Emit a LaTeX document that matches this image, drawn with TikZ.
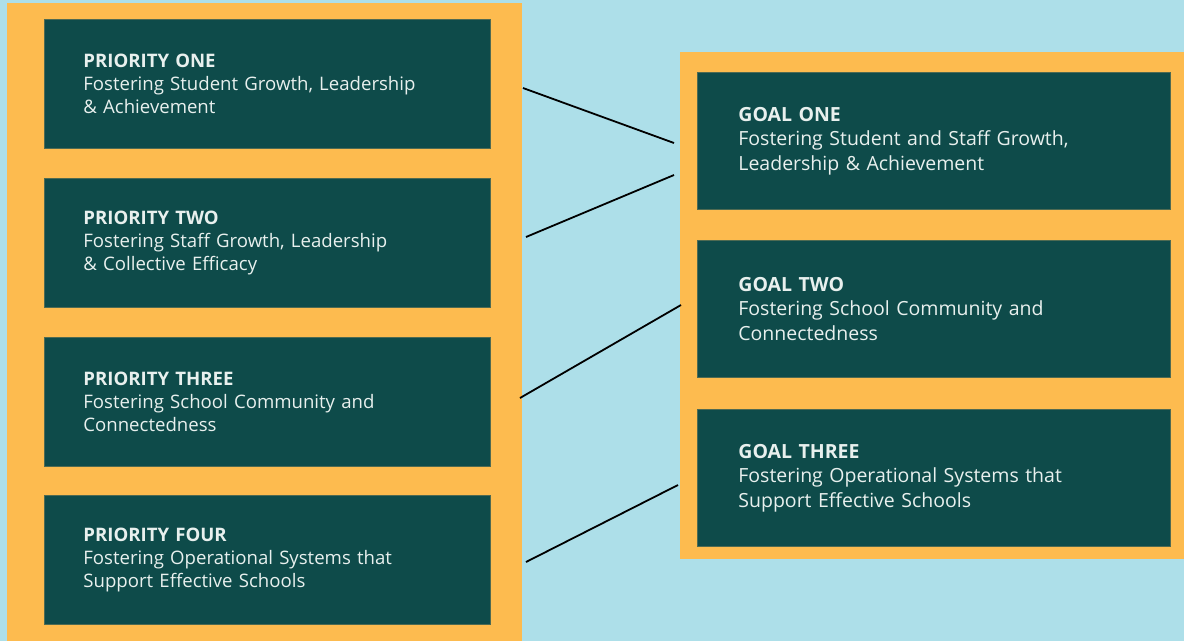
\documentclass[tikz,border=0pt]{standalone}
\usepackage{fontspec}
\setmainfont{Open Sans}
\definecolor{bgblue}{HTML}{ADDFE9}
\definecolor{panelorange}{HTML}{FDBB4F}
\definecolor{boxteal}{HTML}{0E4B4A}
\definecolor{boxedge}{HTML}{4F6A52}
\definecolor{boxtext}{HTML}{E8F0EE}
\tikzset{
  panel/.style={fill=panelorange, draw=none},
  leftbox/.style={fill=boxteal, draw=boxedge, line width=0.8pt, anchor=north west,
    minimum width=446pt, minimum height=129pt, text width=368pt, inner xsep=39pt,
    inner ysep=0pt, align=left, text=boxtext, font=\fontsize{18.6}{23}\selectfont},
  rightbox/.style={fill=boxteal, draw=boxedge, line width=0.8pt, anchor=north west,
    minimum width=473pt, minimum height=137pt, text width=391pt, inner xsep=41pt,
    inner ysep=0pt, align=left, text=boxtext, font=\fontsize{19.5}{24.5}\selectfont},
  link/.style={draw=black, line width=1.8pt}
}
\begin{document}
\begin{tikzpicture}[x=1pt, y=-1pt]
\useasboundingbox (0,0) rectangle (1184,641);
\fill[bgblue] (0,0) rectangle (1184,641);
\path[panel] (7,3) rectangle (522,641);
\path[panel] (680,52) rectangle (1184,559);

\node[leftbox] (p1) at (44,19) {\textbf{PRIORITY ONE}\\Fostering Student Growth, Leadership\\\& Achievement};
\node[leftbox] (p2) at (44,178) {\textbf{PRIORITY TWO}\\Fostering Staff Growth, Leadership\\\& Collective Efficacy};
\node[leftbox] (p3) at (44,337) {\textbf{PRIORITY THREE}\\Fostering School Community and\\Connectedness};
\node[leftbox] (p4) at (44,495) {\textbf{PRIORITY FOUR}\\Fostering Operational Systems that\\Support Effective Schools};

\node[rightbox] (g1) at (697,72) {\textbf{GOAL ONE}\\Fostering Student and Staff Growth,\\Leadership \& Achievement};
\node[rightbox] (g2) at (697,240) {\textbf{GOAL TWO}\\Fostering School Community and\\Connectedness};
\node[rightbox] (g3) at (697,409) {\textbf{GOAL THREE}\\Fostering Operational Systems that\\Support Effective Schools};

\coordinate (a1) at (523,88);  \coordinate (b1) at (674,143);
\coordinate (a2) at (526,237); \coordinate (b2) at (674,175);
\coordinate (a3) at (520,398); \coordinate (b3) at (681,305);
\coordinate (a4) at (526,562); \coordinate (b4) at (678,485);
\draw[link] (a1) -- (b1);
\draw[link] (a2) -- (b2);
\draw[link] (a3) -- (b3);
\draw[link] (a4) -- (b4);
\end{tikzpicture}
\end{document}
